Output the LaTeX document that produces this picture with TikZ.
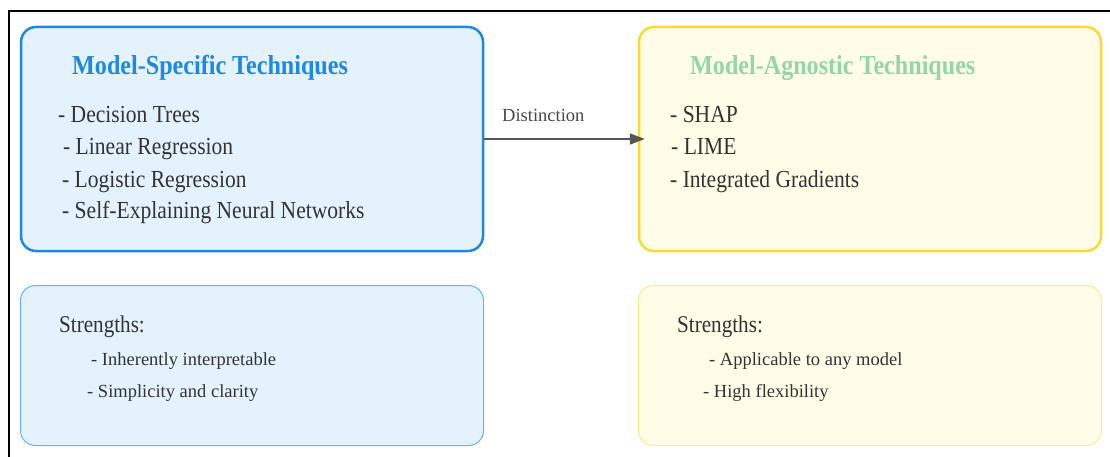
\documentclass[tikz,border=0pt]{standalone}
\usepackage{fontspec}
\setmainfont{Liberation Serif}
\newfontfamily\condfont{Liberation Serif}[FakeStretch=0.88]
\usetikzlibrary{arrows.meta}
\definecolor{bluestroke}{HTML}{1E88E5}
\definecolor{bluefill}{HTML}{E3F2FD}
\definecolor{bluelight}{HTML}{6AB2F2}
\definecolor{yelstroke}{HTML}{FDD835}
\definecolor{yelfill}{HTML}{FFFDE7}
\definecolor{yellight}{HTML}{FFE986}
\definecolor{greentitle}{HTML}{92D6AA}
\definecolor{txt}{HTML}{333333}
\definecolor{arrowgray}{HTML}{555555}
\tikzset{
  bigbox/.style={rounded corners=15pt, line width=2.5pt, minimum width=462pt, minimum height=224pt, inner sep=0pt},
  smallbox/.style={rounded corners=15pt, line width=1pt, minimum width=463pt, minimum height=160pt, inner sep=0pt},
  titletext/.style={anchor=base west, inner sep=0pt, font=\condfont\bfseries\fontsize{27.4}{32}\selectfont},
  itemtext/.style={anchor=base west, inner sep=0pt, text=txt, font=\condfont\fontsize{24.5}{29}\selectfont},
  strtext/.style={anchor=base west, inner sep=0pt, text=txt, font=\condfont\fontsize{24}{29}\selectfont},
  subtext/.style={anchor=base west, inner sep=0pt, text=txt, font=\fontsize{18.5}{22}\selectfont},
  lbltext/.style={anchor=base west, inner sep=0pt, text=txt!90, font=\fontsize{18.5}{22}\selectfont},
  conn/.style={line width=1.5pt, draw=arrowgray, -{Triangle[length=15pt,width=11pt]}}
}
\begin{document}
\begin{tikzpicture}[x=1pt,y=-1pt]
\useasboundingbox (0,0) rectangle (1110,457);
% frame (top and left edges)
\coordinate (ftl) at (9,11);
\coordinate (ftr) at (1112,11);
\coordinate (fbl) at (9,459);
\draw[line width=2pt, black] (ftr) -- (ftl) -- (fbl);
% boxes
\node[bigbox, draw=bluestroke, fill=bluefill] (b1) at (252,139) {};
\node[bigbox, draw=yelstroke, fill=yelfill] (b2) at (870,139) {};
\node[smallbox, draw=bluelight, fill=bluefill] (b3) at (252,365.5) {};
\node[smallbox, draw=yellight, fill=yelfill] (b4) at (870,365.5) {};
% connector
\draw[conn, shorten >=-7pt] (b1.east) -- (b2.west);
\node[lbltext] (dist) at (502,122) {Distinction};
% left top texts
\node[titletext, text=bluestroke] (t1) at (72,75) {Model-Specific Techniques};
\node[itemtext] (i11) at (58,123) {- Decision Trees};
\node[itemtext] (i12) at (63,155) {- Linear Regression};
\node[itemtext] (i13) at (62,187) {- Logistic Regression};
\node[itemtext] (i14) at (62,218) {- Self-Explaining Neural Networks};
% right top texts
\node[titletext, text=greentitle] (t2) at (690,75) {Model-Agnostic Techniques};
\node[itemtext] (i21) at (670,123) {- SHAP};
\node[itemtext] (i22) at (671,155) {- LIME};
\node[itemtext] (i23) at (670,187) {- Integrated Gradients};
% bottom left
\node[strtext] (s1) at (59,332) {Strengths:};
\node[subtext] (s11) at (91,365) {- Inherently interpretable};
\node[subtext] (s12) at (87,397) {- Simplicity and clarity};
% bottom right
\node[strtext] (s2) at (677,332) {Strengths:};
\node[subtext] (s21) at (709,365) {- Applicable to any model};
\node[subtext] (s22) at (703,397) {- High flexibility};
\end{tikzpicture}
\end{document}
